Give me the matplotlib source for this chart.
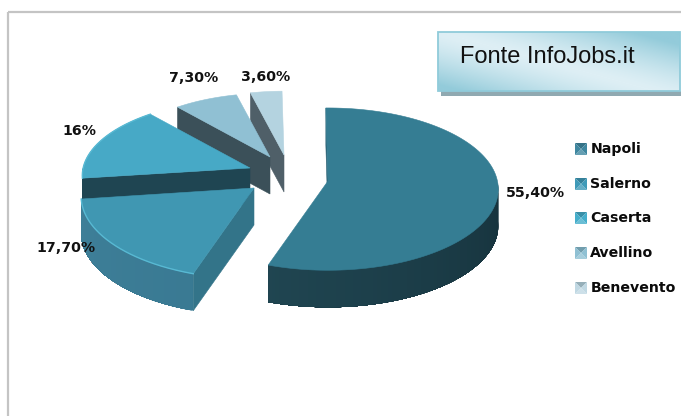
import numpy as np
import matplotlib
matplotlib.use("Agg")
import matplotlib.pyplot as plt
from matplotlib.patches import Polygon, Rectangle
from matplotlib.colors import LinearSegmentedColormap, to_rgb

categories = ["Napoli", "Salerno", "Caserta", "Avellino", "Benevento"]
values = [55.4, 17.7, 16.0, 7.3, 3.6]
labels = ["55,40%", "17,70%", "16%", "7,30%", "3,60%"]

# styling / layout (pixel space)
top_colors = ["#357d93", "#4097b2", "#47a9c6", "#90c0d3", "#b4d3e0"]
wall_left = ["#26525f", "#3f8099", "#1f4552", "#41545c", "#4f5f68"]
wall_right = ["#16323c", "#31708a", "#1f4552", "#41545c", "#4f5f68"]
face_colors = ["#2b6376", "#337489", "#1f4552", "#3b5059", "#4f5f68"]
vertices = [(328, 181), (254, 188), (250, 168), (270, 157), (284, 155)]
scale_x = [0.985, 1.0, 0.97, 0.90, 0.90]
scale_y = [1.03, 1.05, 0.97, 0.90, 0.90]
label_pos = [(535, 193), (66, 248), (79, 131), (194, 78), (266, 77)]
legend_y = [149, 184, 218, 253, 288]
legend_x = [591, 590, 590, 590, 591]
legend_colors = ["#3f87a0", "#3f9ab8", "#45aecb", "#8fc0d3", "#c0d8e3"]

RX, RY, PERSP, DEPTH = 172, 78, 0.10, 37
START = -0.8

fig = plt.figure(figsize=(6.81, 4.16), dpi=100)
ax = fig.add_axes([0, 0, 1, 1])
ax.set_xlim(0, 681)
ax.set_ylim(416, 0)
ax.axis("off")

# chart frame
ax.add_patch(Rectangle((8, 12), 800, 500, fill=False, ec="#c4c4c4", lw=1.6, zorder=1))


def rim(theta_deg, sx, sy):
    t = np.radians(theta_deg)
    u, v = np.sin(t), -np.cos(t)
    s = 1 / (1 - PERSP * v)
    return RX * sx * u * s, RY * sy * v * s


def mix(c1, c2, f):
    a, b = np.array(to_rgb(c1)), np.array(to_rgb(c2))
    return tuple(a + (b - a) * f)


shares = np.array(values) / np.sum(values) * 360
ends = START + np.cumsum(shares)
starts = ends - shares

for i in [4, 3, 2, 1, 0]:
    z = 10 + (4 - i) * 5
    vx, vy = vertices[i]
    th = np.linspace(starts[i], ends[i], 160)
    xs, ys = rim(th, scale_x[i], scale_y[i])
    xs = xs + vx
    ys = ys + vy
    # outer wall, only where it faces the viewer: paint from the far end so strips overlap
    front = np.where((np.mod(th, 360) > 90) & (np.mod(th, 360) < 270))[0]
    if len(front) > 1:
        for k in range(len(front) - 1):
            a = front[k]
            f = 1 - (np.mod(th[a], 360) - 90) / 180
            col = mix(wall_left[i], wall_right[i], f)
            rest = front[k:]
            outline = np.r_[np.column_stack([xs[rest], ys[rest]]),
                            np.column_stack([xs[rest][::-1], ys[rest][::-1] + DEPTH])]
            ax.add_patch(Polygon(outline, fc=col, ec="none", zorder=z))
    # the radial face at each slice's clockwise start is the one turned to the viewer
    ax.add_patch(Polygon([(vx, vy), (xs[0], ys[0]),
                          (xs[0], ys[0] + DEPTH), (vx, vy + DEPTH)],
                         fc=face_colors[i], ec=face_colors[i], lw=0.4, zorder=z + 1))
    # top surface
    ax.add_patch(Polygon(np.column_stack([np.r_[vx, xs], np.r_[vy, ys]]),
                         fc=top_colors[i], ec=top_colors[i], lw=0.4, zorder=z + 2))
    # highlighted rim
    if i in (1, 2):
        ax.plot(xs, ys, color="#58b9d3", lw=1.0, zorder=z + 3)

for (x, y), t in zip(label_pos, labels):
    ax.text(x, y, t, ha="center", va="center", fontsize=10.2, fontweight="bold",
            family="DejaVu Sans", color="#111111", zorder=60)

# legend
for name, x, y, c in zip(categories, legend_x, legend_y, legend_colors):
    x0, y0, w = 575, y - 6, 12
    cx, cy = x0 + w / 2, y0 + w / 2
    tl, tr, br, bl = (x0, y0), (x0 + w, y0), (x0 + w, y0 + w), (x0, y0 + w)
    ax.add_patch(Polygon([tl, tr, (cx, cy)], fc=mix(c, "#16323c", 0.25), ec="none", zorder=50))
    ax.add_patch(Polygon([bl, br, (cx, cy)], fc=mix(c, "#ffffff", 0.2), ec="none", zorder=50))
    ax.add_patch(Polygon([tl, bl, (cx, cy)], fc=c, ec="none", zorder=50))
    ax.add_patch(Polygon([tr, br, (cx, cy)], fc=c, ec="none", zorder=50))
    ax.text(x, y, name, ha="left", va="center", fontsize=10.2, fontweight="bold",
            family="DejaVu Sans", color="#0b0b0b", zorder=60)

# source box
bx0, bx1, by0, by1 = 438, 680, 32, 91
ax.add_patch(Rectangle((441, by1), bx1 - 441 + 2, 5, fc="#90a9b1", ec="none", zorder=70))
gx, gy = np.meshgrid(np.linspace(0, 1, 200), np.linspace(0, 1, 60))
g = np.abs(gx - gy * 0.9) ** 1.4
cmap = LinearSegmentedColormap.from_list("box", ["#deeff5", "#93cbda"])
ax.imshow(g, extent=(bx0, bx1, by1, by0), cmap=cmap, aspect="auto", vmin=0, vmax=0.75,
          zorder=71, interpolation="bilinear")
ax.add_patch(Rectangle((bx0, by0), bx1 - bx0, by1 - by0, fill=False, ec="#90cbda", lw=1.3, zorder=72))
ax.text(460, 57, "Fonte InfoJobs.it", family="Liberation Sans", fontsize=17,
        ha="left", va="center", color="#111111", zorder=73)
ax.set_xlim(0, 681)
ax.set_ylim(416, 0)

fig.savefig("out.png", dpi=100)
